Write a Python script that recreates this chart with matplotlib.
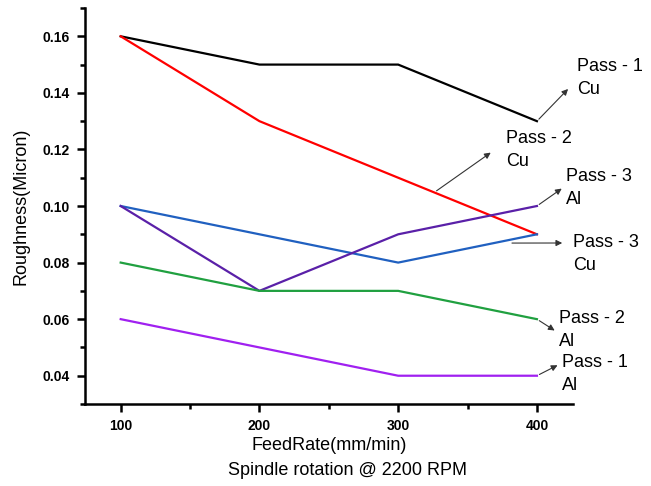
import matplotlib
matplotlib.use('Agg')
import matplotlib.pyplot as plt
from matplotlib.ticker import MultipleLocator

plt.rcParams['font.family'] = ['Liberation Sans', 'DejaVu Sans']

feed = [100, 200, 300, 400]
pass1_cu = [0.16, 0.15, 0.15, 0.13]
pass2_cu = [0.16, 0.13, 0.11, 0.09]
pass3_cu = [0.10, 0.09, 0.08, 0.09]
pass3_al = [0.10, 0.07, 0.09, 0.10]
pass2_al = [0.08, 0.07, 0.07, 0.06]
pass1_al = [0.06, 0.05, 0.04, 0.04]

fig = plt.figure(figsize=(6.51, 4.86), dpi=100)
ax = fig.add_axes([0.1306, 0.1687, 0.7496, 0.8148])

ax.plot(feed, pass1_cu, color='black', lw=1.6)
ax.plot(feed, pass2_cu, color='#ff0000', lw=1.6)
ax.plot(feed, pass3_cu, color='#2060c0', lw=1.6)
ax.plot(feed, pass3_al, color='#5a20a8', lw=1.6)
ax.plot(feed, pass2_al, color='#20a040', lw=1.6)
ax.plot(feed, pass1_al, color='#a020f0', lw=1.6)

ax.set_xlim(74.3, 426)
ax.set_ylim(0.03, 0.17)
ax.set_xticks(feed)
ax.set_yticks([0.04, 0.06, 0.08, 0.10, 0.12, 0.14, 0.16])
ax.xaxis.set_minor_locator(MultipleLocator(50))
ax.yaxis.set_minor_locator(MultipleLocator(0.01))
ax.yaxis.set_major_formatter(matplotlib.ticker.FormatStrFormatter('%.2f'))
for lab in ax.get_xticklabels() + ax.get_yticklabels():
    lab.set_fontweight('bold')
    lab.set_fontsize(10)
ax.tick_params(which='major', direction='out', length=6, width=1.8, pad=5)
ax.tick_params(which='minor', direction='out', length=3.5, width=1.8)
ax.spines['top'].set_visible(False)
ax.spines['right'].set_visible(False)
ax.spines['left'].set_linewidth(1.8)
ax.spines['bottom'].set_linewidth(1.8)

ax.set_ylabel('Roughness(Micron)', fontsize=13, labelpad=9)
fig.text(329 / 651, 1 - 445 / 486, 'FeedRate(mm/min)', fontsize=13, ha='center', va='center')
fig.text(348 / 651, 1 - 470 / 486, 'Spindle rotation @ 2200 RPM', fontsize=13, ha='center', va='center')

arr = dict(arrowstyle='-|>', color='#333333', lw=0.8, mutation_scale=9)
notes = [
    ('Pass - 1\nCu', (400, pass1_cu[3]), (577, 78), (570, 87)),
    ('Pass - 2\nCu', (326, 0.1048), (506, 150), (493, 151)),
    ('Pass - 3\nAl', (400, pass3_al[3]), (566, 188), (564, 187)),
    ('Pass - 3\nCu', (380, 0.0869), (573, 254), (565, 243)),
    ('Pass - 2\nAl', (400, pass2_al[3]), (559, 330), (557, 332)),
    ('Pass - 1\nAl', (400, pass1_al[3]), (562, 374), (560, 364)),
]
for txt, xy, tpos, apos in notes:
    ax.annotate('', xy=(apos[0] / 651, 1 - apos[1] / 486), xycoords='figure fraction',
                xytext=xy, textcoords='data', arrowprops=arr, annotation_clip=False)
    fig.text(tpos[0] / 651, 1 - tpos[1] / 486, txt, fontsize=13, ha='left', va='center',
             linespacing=1.4)

fig.savefig('out.png', dpi=100)
